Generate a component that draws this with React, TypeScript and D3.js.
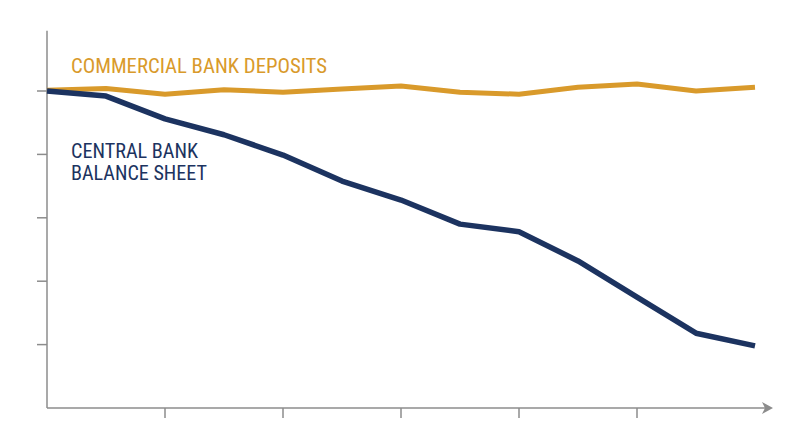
import { useEffect, useRef } from 'react'
import * as d3 from 'd3'

// index values (first point = 100)
const periods = [0, 1, 2, 3, 4, 5, 6, 7, 8, 9, 10, 11, 12]
const deposits = [100.2, 100.8, 99, 100.4, 99.6, 100.6, 101.6, 99.6, 99, 101.2, 102.2, 100, 101.2]
const balanceSheet = [100, 98.4, 91.2, 86.2, 79.8, 71.6, 65.6, 58, 55.6, 46.4, 35, 23.6, 19.6]
const yTicks = [20, 40, 60, 80, 100]
const xTicks = [2, 4, 6, 8, 10]

const ORANGE = '#d99a2b'
const NAVY = '#1c3360'
const AXIS = '#8c8c8c'
const FONT = '"Liberation Sans Narrow", "Roboto Condensed", "Open Sans", sans-serif'

export default function App() {
  const ref = useRef<SVGSVGElement | null>(null)

  useEffect(() => {
    const el = ref.current
    if (!el) return
    const svg = d3.select(el)
    svg.selectAll('*').remove()

    const x = d3.scaleLinear().domain([0, 12]).range([47, 755])
    const y = d3.scaleLinear().domain([0, 100]).range([408, 91])

    const axisG = svg.append('g').attr('stroke', AXIS).attr('stroke-width', 1.5).attr('fill', 'none')
    // y axis
    axisG.append('line').attr('x1', x(0)).attr('x2', x(0)).attr('y1', y(0)).attr('y2', y(119))
    axisG.selectAll('line.ytick').data(yTicks).join('line')
      .attr('class', 'ytick')
      .attr('x1', x(0) - 10).attr('x2', x(0))
      .attr('y1', d => y(d)).attr('y2', d => y(d))
    // x axis
    axisG.append('line').attr('x1', x(0)).attr('x2', 768).attr('y1', y(0)).attr('y2', y(0))
    axisG.selectAll('line.xtick').data(xTicks).join('line')
      .attr('class', 'xtick')
      .attr('x1', d => x(d)).attr('x2', d => x(d))
      .attr('y1', y(0)).attr('y2', y(0) + 10)
    svg.append('path')
      .attr('d', `M762,${y(0) - 6} L773,${y(0)} L762,${y(0) + 6} L765,${y(0)} Z`)
      .attr('fill', AXIS)

    const line = d3.line<number>().x((_, i) => x(periods[i])).y(d => y(d))

    svg.append('path').datum(deposits)
      .attr('d', line)
      .attr('fill', 'none').attr('stroke', ORANGE).attr('stroke-width', 5)
      .attr('stroke-linejoin', 'round')

    svg.append('path').datum(balanceSheet)
      .attr('d', line)
      .attr('fill', 'none').attr('stroke', NAVY).attr('stroke-width', 5.5)
      .attr('stroke-linejoin', 'round')

    const label = (t: string, ty: number, w: number, color: string) =>
      svg.append('text')
        .attr('x', 71).attr('y', ty)
        .attr('fill', color)
        .attr('font-family', FONT)
        .attr('font-size', 21)
        .attr('textLength', w)
        .attr('lengthAdjust', 'spacingAndGlyphs')
        .text(t)

    label('COMMERCIAL BANK DEPOSITS', 73, 256, ORANGE)
    label('CENTRAL BANK', 158, 127, NAVY)
    label('BALANCE SHEET', 180, 136, NAVY)
  }, [])

  return (
    <svg
      ref={ref}
      width={800}
      height={447}
      style={{ position: 'absolute', left: 0, top: 0, background: '#fff' }}
    />
  )
}
